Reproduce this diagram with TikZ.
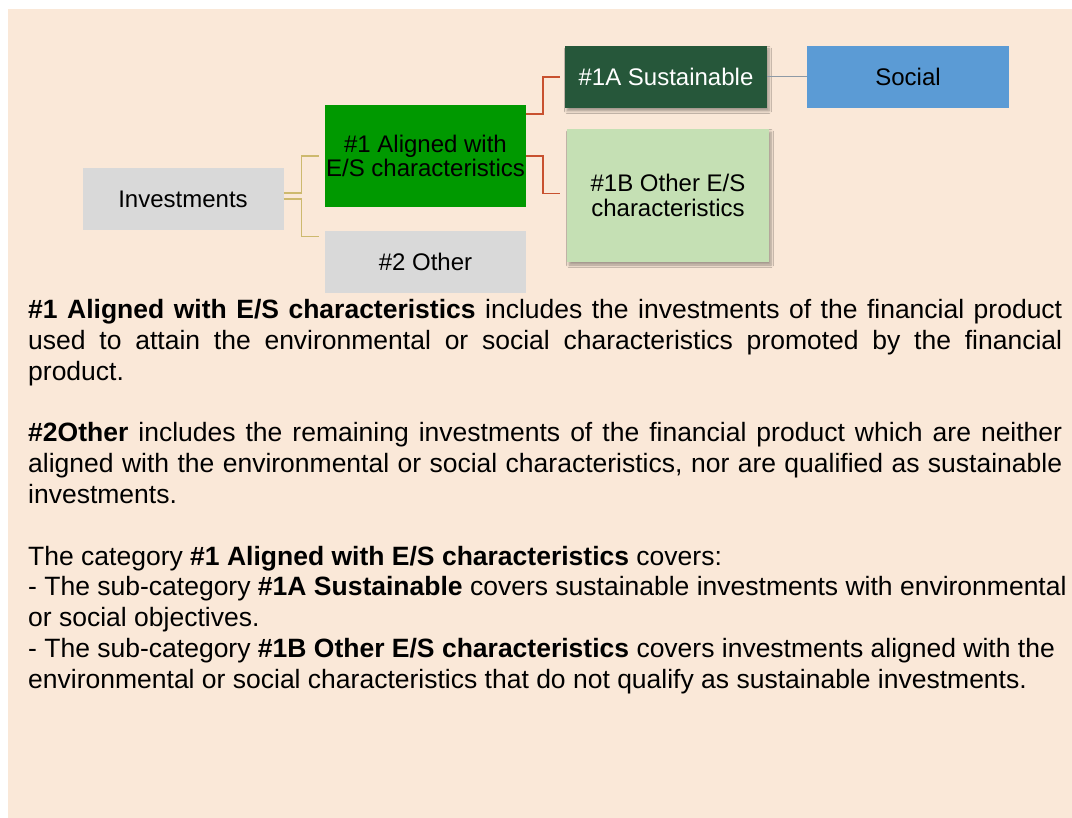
\documentclass[tikz,border=0pt]{standalone}
\usepackage{fontspec}
\setmainfont{Liberation Sans}
\usetikzlibrary{shadows.blur}
\definecolor{bgbeige}{HTML}{FAE8D8}
\definecolor{boxgray}{HTML}{D9D9D9}
\definecolor{boxgreen}{HTML}{009900}
\definecolor{boxdark}{HTML}{26573A}
\definecolor{boxlight}{HTML}{C5E0B4}
\definecolor{boxblue}{HTML}{5B9BD5}
\definecolor{linetan}{HTML}{CDB96E}
\definecolor{linered}{HTML}{C8512F}
\definecolor{linegray}{HTML}{8E9AA6}
\tikzset{
  box/.style={draw=none, inner sep=0pt, align=center, minimum width=201pt,
    font=\fontsize{24}{24.5}\selectfont},
  shad/.style={blur shadow={shadow xshift=2pt, shadow yshift=-3pt,
    shadow blur steps=6, shadow blur radius=2.5pt, shadow opacity=35}},
  tanline/.style={draw=linetan, line width=1.4pt},
  redline/.style={draw=linered, line width=1.5pt},
  grayline/.style={draw=linegray, line width=1pt},
  bodyline/.style={anchor=base west, inner sep=0pt,
    font=\fontsize{26.5}{30.75}\selectfont}
}
\begin{document}
\begin{tikzpicture}[x=1pt,y=-1pt]
\useasboundingbox (0,0) rectangle (1072,818);
\fill[white] (0,0) rectangle (1072,818);
\fill[bgbeige] (8,9) rectangle (1072,818);

% boxes
\node[box, fill=boxgray, minimum height=62pt] (inv) at (183,199) {Investments};
\node[box, fill=boxgreen, minimum height=102pt] (n1) at (425.5,156) {\#1 Aligned with\\E/S characteristics};
\node[box, fill=boxgray, minimum height=62pt] (n2) at (425.5,262) {\#2 Other};
\node[box, fill=boxdark, text=white, minimum height=62pt, minimum width=202pt, shad] (n1a) at (666,77) {\#1A Sustainable};
\node[box, fill=boxblue, minimum height=62pt, minimum width=202pt] (soc) at (908,77) {Social};
\node[box, fill=boxlight, minimum height=133pt, minimum width=202pt, shad] (n1b) at (668,195.5) {\#1B Other E/S\\characteristics};

% connectors
\draw[tanline] ([yshift=6pt]inv.east) -- ++(18,0) |- ([xshift=-6pt]n1.west);
\draw[tanline] (inv.east) -- ++(18,0) |- ([xshift=-6pt,yshift=-6pt]n2.north west);
\draw[redline] ([yshift=42pt]n1.east) -- ++(17,0) |- ([xshift=-4.5pt]n1a.west);
\draw[redline] (n1.east) -- ++(17,0) |- ([xshift=-6.5pt,yshift=2pt]n1b.west);
\draw[grayline] (n1a.east) -- (soc.west);

% body text
\node[bodyline] (l1) at (28,319) {\makebox[1034pt][s]{\textbf{\#1 Aligned with E/S characteristics} includes the investments of the financial product}};
\node[bodyline] (l2) at (28,349.75) {\makebox[1034pt][s]{used to attain the environmental or social characteristics promoted by the financial}};
\node[bodyline] (l3) at (28,380.5) {product.};
\node[bodyline] (l4) at (28,442) {\makebox[1034pt][s]{\textbf{\#2Other} includes the remaining investments of the financial product which are neither}};
\node[bodyline] (l5) at (28,472.75) {\makebox[1034pt][s]{aligned with the environmental or social characteristics, nor are qualified as sustainable}};
\node[bodyline] (l6) at (28,503.5) {investments.};
\node[bodyline] (l7) at (28,565) {The category \textbf{\#1 Aligned with E/S characteristics} covers:};
\node[bodyline] (l8) at (28,595.75) {- The sub-category \textbf{\#1A Sustainable} covers sustainable investments with environmental};
\node[bodyline] (l9) at (28,626.5) {or social objectives.};
\node[bodyline] (l10) at (28,657.25) {- The sub-category \textbf{\#1B Other E/S characteristics} covers investments aligned with the};
\node[bodyline] (l11) at (28,688) {environmental or social characteristics that do not qualify as sustainable investments.};
\end{tikzpicture}
\end{document}
